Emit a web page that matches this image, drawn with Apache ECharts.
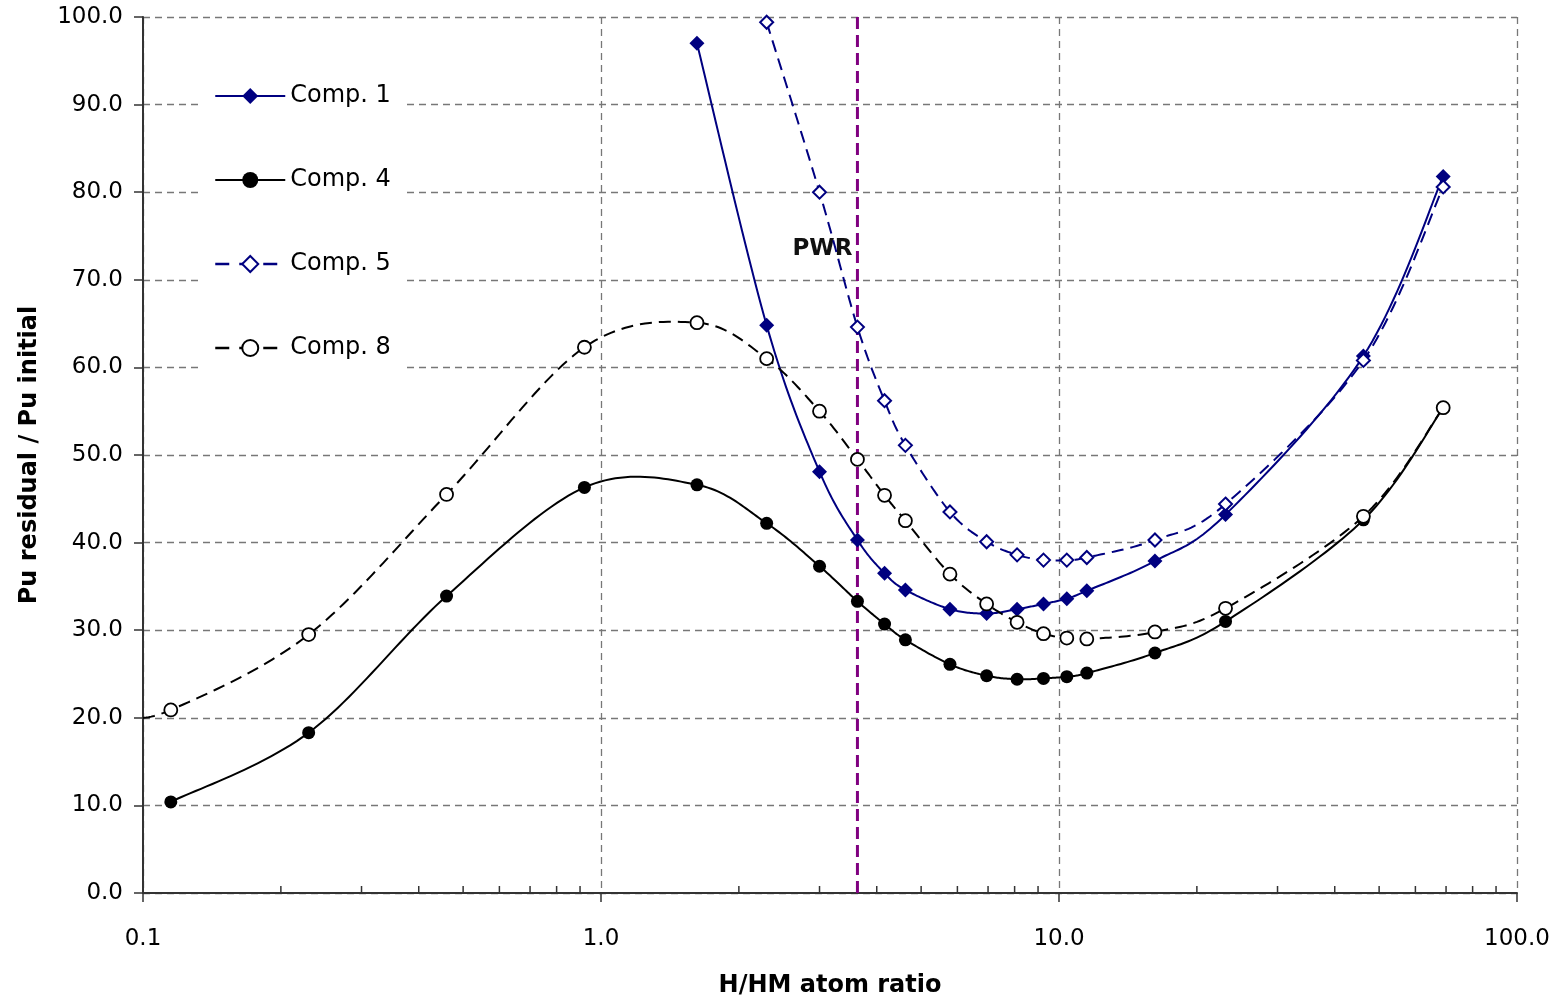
<!DOCTYPE html>
<html>
<head>
<meta charset="utf-8">
<script src="https://cdn.jsdelivr.net/npm/echarts@6/dist/echarts.min.js"></script>
<style>
html,body{margin:0;padding:0;background:#fff;}
#c{width:1564px;height:999px;}
</style>
</head>
<body>
<div id="c"></div>
<script>
// H/HM atom ratio values (shared by the series)
var xRatio = [0.115, 0.23, 0.46, 0.92, 1.62, 2.3, 3.0, 3.63, 4.16, 4.62, 5.78, 6.95, 8.1, 9.25, 10.4, 11.5, 16.2, 23.1, 46.2, 69.0];
var comp1X = [1.62, 2.3, 3.0, 3.63, 4.16, 4.62, 5.78, 6.95, 8.1, 9.25, 10.4, 11.5, 16.2, 23.1, 46.2, 69.0];
var comp1Y = [97.0, 64.8, 48.1, 40.3, 36.5, 34.6, 32.4, 31.9, 32.4, 33.0, 33.6, 34.5, 37.9, 43.2, 61.3, 81.8];
var comp4Y = [10.4, 18.3, 33.9, 46.3, 46.6, 42.2, 37.3, 33.3, 30.7, 28.9, 26.1, 24.8, 24.4, 24.5, 24.7, 25.1, 27.4, 31.0, 42.6, 55.4];
var comp5X = [2.3, 3.0, 3.63, 4.16, 4.62, 5.78, 6.95, 8.1, 9.25, 10.4, 11.5, 16.2, 23.1, 46.2, 69.0];
var comp5Y = [99.4, 80.0, 64.6, 56.2, 51.1, 43.5, 40.1, 38.6, 38.0, 38.0, 38.3, 40.3, 44.4, 60.8, 80.6];
var comp8X = [0.09].concat(xRatio);
var comp8Y = [20.1, 20.9, 29.5, 45.5, 62.3, 65.1, 61.0, 55.0, 49.5, 45.4, 42.5, 36.4, 33.0, 30.9, 29.6, 29.1, 29.0, 29.8, 32.5, 43.0, 55.4];
var pwrX = 3.63;
var pwrLabelY = 73.5;
var minorTicks = [0.2,0.3,0.4,0.5,0.6,0.7,0.8,0.9,2,3,4,5,6,7,8,9,20,30,40,50,60,70,80,90];

function pairs(xs, ys){ return xs.map(function(x,i){ return [x, ys[i]]; }); }

var FONT = 'DejaVu Sans';
var NAVY = '#000080';

// Smooth curve (Excel-like Catmull-Rom Bezier) drawn in pixel space from api.coord of the data points
function curveSeries(name, xs, ys, color, dash, z){
  return {
    type: 'custom', name: name + ' curve', silent: true, z: z,
    data: pairs(xs, ys), encode: { x: 0, y: 1 },
    renderItem: function(params, api){
      if (params.dataIndex !== 0) return null;
      var pts = xs.map(function(x, i){ return api.coord([x, ys[i]]); });
      var out = [];
      var N = 24;
      for (var i = 0; i < pts.length - 1; i++){
        var p0 = pts[i-1] || pts[i], p1 = pts[i], p2 = pts[i+1], p3 = pts[i+2] || pts[i+1];
        var c1 = [p1[0] + (p2[0]-p0[0])/6, p1[1] + (p2[1]-p0[1])/6];
        var c2 = [p2[0] - (p3[0]-p1[0])/6, p2[1] - (p3[1]-p1[1])/6];
        for (var k = 0; k < N; k++){
          var t = k / N, u = 1 - t;
          var a = u*u*u, b = 3*u*u*t, c = 3*u*t*t, d = t*t*t;
          out.push([a*p1[0]+b*c1[0]+c*c2[0]+d*p2[0], a*p1[1]+b*c1[1]+c*c2[1]+d*p2[1]]);
        }
      }
      out.push(pts[pts.length-1]);
      var cs = params.coordSys;
      var clipped = [];
      for (var j = 0; j < out.length; j++){
        var q = out[j];
        if (q[0] < cs.x) {
          var nx = out[j+1];
          if (nx && nx[0] >= cs.x) {
            var r = (cs.x - q[0]) / (nx[0] - q[0]);
            clipped.push([cs.x, q[1] + r*(nx[1]-q[1])]);
          }
          continue;
        }
        clipped.push(q);
      }
      return { type: 'polyline', shape: { points: clipped },
        style: { stroke: color, lineWidth: 2, lineDash: dash, fill: 'none' } };
    }
  };
}

function markerSeries(name, xs, ys, symbol, size, fill, border, bw, z){
  return {
    type: 'line', name: name, data: pairs(xs, ys), clip: true, z: z,
    symbol: symbol, symbolSize: size, showSymbol: true,
    lineStyle: { opacity: 0, width: 0 },
    itemStyle: { color: fill, borderColor: border, borderWidth: bw }
  };
}

var chart = echarts.init(document.getElementById('c'));
chart.setOption({
  animation: false,
  backgroundColor: '#fff',
  textStyle: { fontFamily: FONT },
  grid: { left: 143, right: 47, top: 17, bottom: 106, containLabel: false, outerBoundsMode: 'none' },
  legend: {
    orient: 'vertical',
    left: 202, top: 66,
    padding: [18, 12],
    backgroundColor: '#fff',
    itemWidth: 70, itemHeight: 20, itemGap: 60,
    data: [
      { name: 'Comp. 1', lineStyle: { color: NAVY, width: 2, type: 'solid', opacity: 1 } },
      { name: 'Comp. 4', lineStyle: { color: '#000', width: 2, type: 'solid', opacity: 1 } },
      { name: 'Comp. 5', lineStyle: { color: NAVY, width: 2.5, type: [14, 10], opacity: 1 } },
      { name: 'Comp. 8', lineStyle: { color: '#000', width: 2.5, type: [14, 10], opacity: 1 } }
    ],
    textStyle: { fontFamily: FONT, fontSize: 24, color: '#000' },
    z: 20
  },
  xAxis: {
    type: 'log', logBase: 10, min: 0.1, max: 100,
    name: 'H/HM atom ratio', nameLocation: 'middle', nameGap: 81,
    nameTextStyle: { fontFamily: FONT, fontSize: 24, fontWeight: 'bold', color: '#000' },
    axisLine: { onZero: false, lineStyle: { color: '#333', width: 2 } },
    axisTick: { show: true, inside: false, length: 9, lineStyle: { color: '#333', width: 1.5 } },
    minorTick: { show: false },
    axisLabel: { fontFamily: FONT, fontSize: 23, color: '#000', margin: 35,
      formatter: function(v){ return (+v).toFixed(1); } },
    splitLine: { show: true, lineStyle: { color: '#777', width: 1.3, type: [7, 5] } }
  },
  yAxis: {
    type: 'value', min: 0, max: 100, interval: 10,
    name: 'Pu residual / Pu initial', nameLocation: 'middle', nameGap: 101, nameRotate: 90,
    nameTextStyle: { fontFamily: FONT, fontSize: 24, fontWeight: 'bold', color: '#000' },
    axisLine: { show: true, lineStyle: { color: '#333', width: 2 } },
    axisTick: { show: true, inside: false, length: 9, lineStyle: { color: '#333', width: 1.5 } },
    axisLabel: { fontFamily: FONT, fontSize: 23, color: '#000', margin: 20,
      formatter: function(v){ return v.toFixed(1); } },
    splitLine: { show: true, lineStyle: { color: '#777', width: 1.3, type: [7, 5] } }
  },
  series: [
    {
      type: 'custom', name: 'minor', silent: true,
      data: minorTicks.map(function(v){ return [v, 0]; }),
      encode: { x: 0, y: 1 },
      renderItem: function(params, api){
        var p = api.coord([api.value(0), api.value(1)]);
        return { type: 'line', shape: { x1: p[0], y1: p[1], x2: p[0], y2: p[1] - 7 },
          style: { stroke: '#333', lineWidth: 1.5 } };
      },
      z: 3
    },
    {
      type: 'line', name: 'PWR', silent: true,
      data: [[pwrX, 0], [pwrX, 100]],
      symbol: 'none',
      lineStyle: { color: '#800080', width: 3, type: [12, 6] },
      z: 2,
      markPoint: {
        symbol: 'rect', symbolSize: 0, silent: true,
        label: { show: true, position: 'left', distance: 5, formatter: 'PWR',
          fontFamily: FONT, fontSize: 23, fontWeight: 'bold', color: '#111' },
        data: [{ coord: [pwrX, pwrLabelY] }]
      }
    },
    curveSeries('Comp. 1', comp1X, comp1Y, NAVY, null, 4),
    markerSeries('Comp. 1', comp1X, comp1Y, 'diamond', 15, NAVY, NAVY, 0, 5),
    curveSeries('Comp. 4', xRatio, comp4Y, '#000', null, 6),
    markerSeries('Comp. 4', xRatio, comp4Y, 'circle', 13, '#000', '#000', 0, 7),
    curveSeries('Comp. 5', comp5X, comp5Y, NAVY, [12, 7], 8),
    markerSeries('Comp. 5', comp5X, comp5Y, 'diamond', 13, '#fff', NAVY, 2, 9),
    curveSeries('Comp. 8', comp8X, comp8Y, '#000', [12, 7], 10),
    markerSeries('Comp. 8', comp8X, comp8Y, 'circle', 13, '#fff', '#000', 1.8, 11)
  ]
});
</script>
</body>
</html>
